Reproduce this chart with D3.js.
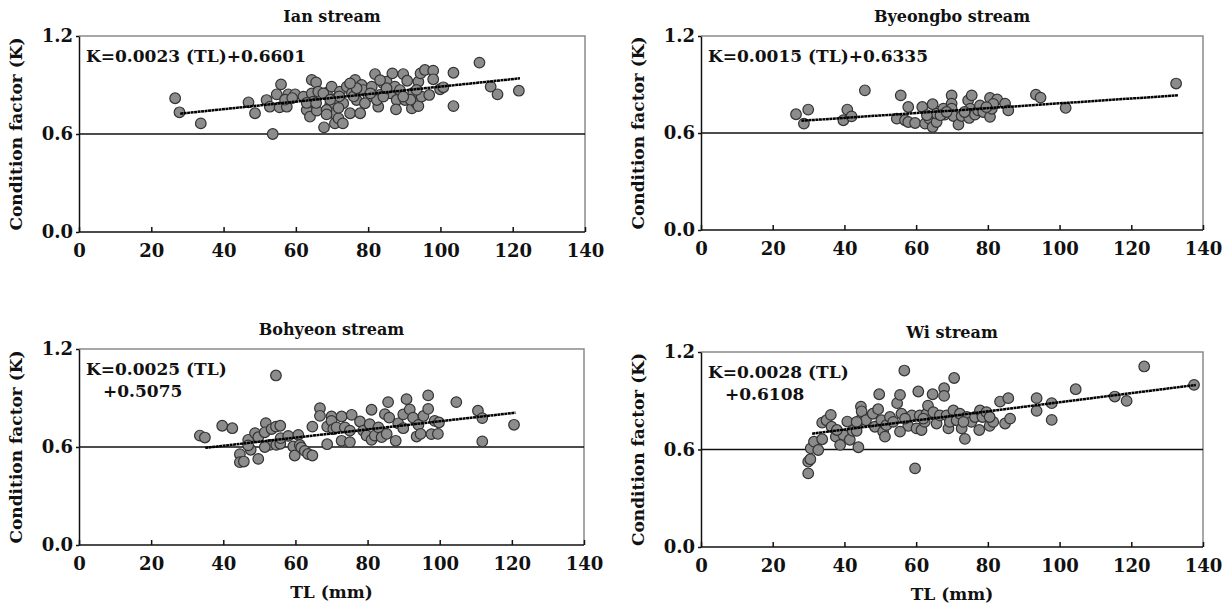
<!DOCTYPE html>
<html>
<meta charset="utf-8">
<head>
	<script src="https://d3js.org/d3.v7.min.js"></script>
	<style>
		body { margin: 0; background: #fff; }
		svg text { font-family: "DejaVu Serif", serif; fill: #111; }
		.frame { fill: none; stroke: #8a8a8a; stroke-width: 1.5px; }
		.axis path, .axis line { stroke: #111; stroke-width: 1.5px; }
		.ref { stroke: #111; stroke-width: 1.3px; }
		.fit { fill: none; stroke: #000; stroke-width: 2.5px; stroke-dasharray: 3,0.5; }
		.dot { fill: #8c8c8c; stroke: #333; stroke-width: 1.2px; }
	</style>
</head>
<body>
<script>
// axis ticks
var xTicks = [0, 20, 40, 60, 80, 100, 120, 140];
var yTicks = [0, 0.6, 1.2];

// panel titles and regression text
var titles = ["Ian stream", "Byeongbo stream", "Bohyeon stream", "Wi stream"];
var eqText = [
	["K=0.0023 (TL)+0.6601"],
	["K=0.0015 (TL)+0.6335"],
	["K=0.0025 (TL)", "+0.5075"],
	["K=0.0028 (TL)", "+0.6108"]
];
var slope = [0.0023, 0.0015, 0.0025, 0.0028];
var intercept = [0.6601, 0.6335, 0.5075, 0.6108];
var fitRange = [[28, 122], [28, 133], [35, 121], [31, 138]];

// TL (mm), K
var ianData = [
	[26.6,0.819],[27.8,0.733],[33.7,0.665],[46.9,0.794],[48.7,0.727],[51.9,0.808],[53.6,0.600],
	[54.7,0.843],[55.9,0.904],[52.8,0.767],[55.5,0.763],[57.5,0.767],[57.9,0.843],[59.8,0.843],
	[62.1,0.829],[63.0,0.747],[63.9,0.706],[64.4,0.931],[65.6,0.916],[64.4,0.849],[65.8,0.743],
	[64.8,0.798],[66.2,0.859],[67.8,0.641],[68.6,0.853],[69.5,0.778],[69.9,0.890],[70.4,0.727],
	[70.8,0.665],[71.8,0.696],[73.0,0.665],[71.3,0.819],[72.2,0.859],[73.1,0.788],[74.1,0.890],
	[75.0,0.727],[75.5,0.849],[76.4,0.931],[76.8,0.808],[77.8,0.727],[78.2,0.900],[78.7,0.869],
	[80.1,0.829],[81.0,0.890],[81.9,0.967],[82.8,0.767],[83.3,0.839],[84.2,0.910],[85.1,0.920],
	[86.1,0.849],[86.7,0.971],[87.4,0.890],[87.9,0.808],[87.7,0.751],[89.7,0.967],[90.2,0.808],
	[90.8,0.926],[92.1,0.757],[92.5,0.853],[93.4,0.788],[93.9,0.771],[93.9,0.920],[94.5,0.971],
	[94.8,0.829],[95.7,0.992],[96.9,0.839],[98.0,0.988],[98.0,0.935],[99.9,0.874],[100.8,0.886],
	[103.6,0.975],[103.6,0.771],[110.8,1.037],[113.9,0.890],[115.8,0.843],[121.7,0.865],
	[67.6,0.849],[68.5,0.747],[72.0,0.830],[76.0,0.830],[79.1,0.788],[82.4,0.808],[84.2,0.829],
	[88.8,0.869],[91.7,0.810],[89.7,0.829],[76.8,0.880],[80.6,0.849],[69.5,0.810],[63.0,0.790],
	[57.0,0.810],[59.0,0.820],[65.6,0.790],[85.1,0.880],[93.4,0.870],[75.0,0.910],[83.3,0.930],
	[68.5,0.720],[71.8,0.760]
];
var byeongboData = [
	[26.5,0.716],[28.7,0.658],[29.9,0.745],[39.7,0.679],[40.8,0.745],[42.0,0.703],[45.7,0.864],
	[54.6,0.689],[55.7,0.833],[56.9,0.679],[57.8,0.761],[57.8,0.668],[59.7,0.662],[61.7,0.761],
	[62.5,0.658],[63.7,0.689],[64.6,0.778],[64.6,0.637],[65.7,0.668],[65.7,0.720],[67.6,0.751],
	[68.0,0.714],[69.9,0.833],[69.9,0.782],[69.9,0.751],[70.4,0.705],[71.8,0.652],[72.7,0.705],
	[74.5,0.802],[75.5,0.833],[75.1,0.751],[74.8,0.693],[76.4,0.714],[77.3,0.740],[77.8,0.771],
	[78.7,0.730],[80.6,0.817],[80.6,0.700],[81.1,0.750],[82.6,0.808],[81.5,0.780],[84.8,0.782],
	[85.7,0.740],[93.4,0.837],[94.7,0.819],[101.7,0.755],[132.5,0.906],[66.8,0.710],[73.5,0.730],
	[68.5,0.730],[79.6,0.760],[63.0,0.710]
];
var bohyeonData = [
	[33.5,0.670],[34.9,0.658],[39.7,0.730],[42.5,0.715],[44.6,0.556],[44.6,0.507],[45.7,0.511],
	[46.9,0.644],[47.6,0.583],[48.8,0.685],[49.7,0.527],[49.7,0.660],[51.8,0.746],[51.5,0.690],
	[52.9,0.613],[53.4,0.710],[54.6,0.725],[54.7,0.613],[54.6,1.038],[55.8,0.620],[55.9,0.654],
	[58.0,0.668],[59.4,0.603],[59.8,0.548],[60.8,0.674],[61.2,0.613],[61.6,0.597],[62.6,0.576],
	[63.5,0.557],[64.7,0.548],[64.7,0.725],[66.8,0.838],[66.8,0.791],[68.8,0.617],[68.8,0.725],
	[70.0,0.787],[70.0,0.760],[70.5,0.710],[71.4,0.720],[72.8,0.787],[72.8,0.638],[73.7,0.720],
	[75.1,0.630],[75.6,0.797],[75.1,0.700],[77.9,0.756],[78.8,0.700],[79.7,0.670],[80.6,0.740],
	[81.1,0.828],[81.1,0.644],[82.0,0.670],[83.0,0.720],[83.9,0.660],[84.8,0.801],[85.3,0.680],
	[85.7,0.875],[86.0,0.780],[87.8,0.638],[88.5,0.745],[89.9,0.715],[89.9,0.800],[90.8,0.893],
	[91.7,0.830],[92.6,0.780],[93.6,0.664],[94.1,0.735],[94.7,0.680],[95.5,0.790],[96.8,0.916],
	[96.8,0.833],[97.7,0.679],[98.6,0.760],[99.5,0.680],[99.8,0.750],[104.6,0.875],[110.6,0.822],
	[111.8,0.777],[111.8,0.634],[120.6,0.736],[46.9,0.610],[55.8,0.730],[51.5,0.600]
];
var wiData = [
	[29.9,0.453],[29.9,0.525],[30.5,0.540],[30.6,0.607],[31.5,0.648],[32.7,0.597],[33.8,0.663],
	[33.8,0.765],[35.0,0.780],[36.2,0.813],[36.4,0.740],[37.6,0.679],[38.8,0.628],[39.7,0.690],
	[40.8,0.772],[41.5,0.660],[42.3,0.715],[43.4,0.715],[43.9,0.614],[44.4,0.780],[44.6,0.864],
	[44.8,0.835],[46.0,0.780],[47.9,0.820],[48.5,0.740],[49.4,0.848],[49.7,0.940],[50.3,0.780],
	[50.8,0.710],[51.3,0.679],[51.7,0.750],[52.7,0.800],[53.6,0.770],[54.7,0.885],[55.5,0.936],
	[55.9,0.820],[56.7,1.086],[57.8,0.745],[58.8,0.810],[59.7,0.484],[60.1,0.730],[60.6,0.957],
	[61.0,0.810],[61.5,0.720],[62.4,0.770],[62.9,0.820],[63.3,0.870],[64.6,0.940],[64.8,0.830],
	[65.7,0.760],[66.6,0.810],[67.8,0.977],[67.8,0.930],[68.5,0.810],[69.0,0.730],[69.4,0.770],
	[70.4,0.840],[70.6,1.040],[71.3,0.780],[72.2,0.820],[72.7,0.730],[73.6,0.665],[74.1,0.800],
	[75.4,0.770],[76.4,0.800],[77.6,0.720],[77.8,0.840],[78.5,0.800],[79.6,0.830],[80.5,0.745],
	[81.5,0.770],[83.4,0.895],[84.8,0.760],[85.7,0.916],[86.2,0.790],[93.6,0.916],[93.6,0.838],
	[97.8,0.885],[97.8,0.782],[104.5,0.971],[115.4,0.926],[118.7,0.899],[123.6,1.111],[137.5,0.998],
	[43.4,0.770],[56.9,0.790],[62.0,0.790],[73.2,0.770],[37.9,0.720],[55.5,0.710],[80.5,0.800]
];
var datasets = [ianData, byeongboData, bohyeonData, wiData];

// plot boxes [left, top, width, height]
var boxes = [[79, 36, 506, 196], [701, 36, 502, 194], [79, 349, 505, 196], [701, 352, 502, 195]];

var svg = d3.select("body").append("svg")
	.attr("width", 1228)
	.attr("height", 604);

for (var p = 0; p < 4; p++) {
	var b = boxes[p];
	var x = d3.scaleLinear().domain([0, 140]).range([0, b[2]]);
	var y = d3.scaleLinear().domain([0, 1.2]).range([b[3], 0]);
	var g = svg.append("g").attr("transform", "translate(" + b[0] + "," + b[1] + ")");

	// frame (grey top and right)
	g.append("path").attr("class", "frame")
		.attr("d", "M0,0H" + b[2] + "V" + b[3]);

	// 0.6 reference line
	g.append("line").attr("class", "ref")
		.attr("x1", 0).attr("x2", b[2])
		.attr("y1", y(0.6)).attr("y2", y(0.6));

	// axes
	var xa = g.append("g").attr("class", "axis")
		.attr("transform", "translate(0," + b[3] + ")")
		.call(d3.axisBottom(x).tickValues(xTicks).tickSizeInner(-5).tickSizeOuter(0).tickPadding(12));
	xa.selectAll("text").style("font-size", "18px").style("font-weight", "bold")
		.attr("dy", "0.71em");
	xa.select(".domain").attr("d", "M0,0H" + b[2]);

	var ya = g.append("g").attr("class", "axis")
		.call(d3.axisLeft(y).tickValues(yTicks).tickFormat(d3.format(".1f")).tickSizeInner(3).tickSizeOuter(0).tickPadding(3));
	ya.selectAll("text").style("font-size", "18px").style("font-weight", "bold");

	// points
	g.selectAll(".dot").data(datasets[p]).enter()
		.append("circle")
		.attr("class", "dot")
		.attr("cx", function(d) { return x(d[0]); })
		.attr("cy", function(d) { return y(d[1]); })
		.attr("r", 5.3);

	// regression line
	var s = slope[p], c = intercept[p];
	var line = d3.line()
		.x(function(d) { return x(d); })
		.y(function(d) { return y(s * d + c); });
	g.append("path").attr("class", "fit")
		.attr("d", line(fitRange[p]));

	// title
	g.append("text")
		.attr("x", b[2] / 2).attr("y", -14)
		.attr("text-anchor", "middle")
		.style("font-size", "16px").style("font-weight", "bold")
		.text(titles[p]);

	// equation
	var eq = g.append("text").style("font-size", "17px").style("font-weight", "bold");
	eqText[p].forEach(function(t, i) {
		eq.append("tspan")
			.attr("x", i == 0 ? 7 : 24)
			.attr("y", 26 + i * 22)
			.text(t);
	});

	// y label
	g.append("text")
		.attr("transform", "translate(-57," + (b[3] / 2) + ") rotate(-90)")
		.attr("text-anchor", "middle")
		.style("font-size", "17px").style("font-weight", "bold")
		.text("Condition factor (K)");

	// x label for bottom row
	if (p >= 2) {
		g.append("text")
			.attr("x", b[2] / 2).attr("y", b[3] + 53)
			.attr("text-anchor", "middle")
			.style("font-size", "17px").style("font-weight", "bold")
			.text("TL (mm)");
	}
}
</script>
</body>
</html>
